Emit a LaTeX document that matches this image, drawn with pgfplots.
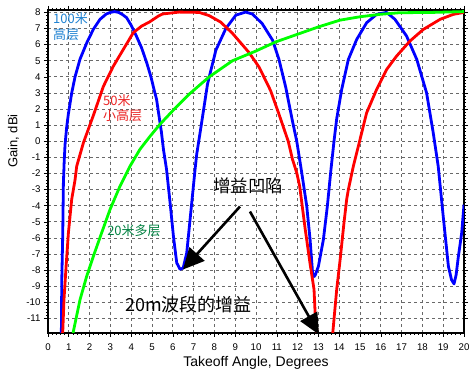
\documentclass[border=0pt]{standalone}
\usepackage{fontspec}
\setmainfont{Liberation Sans}
\newfontfamily\cjk{Noto Sans CJK SC}
\usepackage{pgfplots}
\pgfplotsset{compat=1.18}
\usetikzlibrary{arrows.meta}
\definecolor{c100}{RGB}{30,130,210}
\definecolor{c50}{RGB}{235,35,35}
\definecolor{c20}{RGB}{0,128,64}
\definecolor{gridgray}{RGB}{105,105,105}
\begin{document}
\begin{tikzpicture}
\begin{axis}[
  scale only axis,
  width=416bp, height=323bp,
  xmin=0, xmax=20, ymin=-11.9, ymax=8.15,
  xtick={0,1,...,20},
  ytick={-11,-10,...,8},
  minor x tick num=4, minor y tick num=4,
  tick align=outside,
  major tick length=4bp, minor tick length=2bp,
  tick style={black, line width=0.6bp},
  grid=major,
  major grid style={dashed, gridgray, line width=0.8bp, dash pattern=on 3bp off 3bp},
  axis line style={black, line width=1.6bp},
  clip mode=individual,
  /pgf/number format/assume math mode=true,
  tick label style={font=\fontsize{9.7bp}{11bp}\selectfont},
  xticklabel style={yshift=-3bp},
  xlabel={Takeoff Angle, Degrees},
  xlabel style={at={(axis description cs:0.5,0)}, anchor=base, yshift=-34bp, font=\fontsize{14bp}{16bp}\selectfont},
]
\addplot[blue, line width=2.8bp, line join=round] coordinates {
(0.64,-12) (0.65,-11) (0.66,-8.8) (0.71,-5.7) (0.74,-2.6) (0.78,-1.2) (0.82,-0.2) (0.9,0.9) (0.98,1.7)
(1.14,3.0) (1.3,4.0) (1.54,5.1) (1.86,6.1) (2.18,6.95) (2.5,7.57) (2.8,7.9) (3.0,8.0) (3.2,8.05)
(3.4,8.0) (3.6,7.85) (3.78,7.67) (4.0,7.2) (4.26,6.5) (4.5,5.8) (4.74,4.9) (4.95,4.0) (5.1,3.2)
(5.22,2.6) (5.38,1.2) (5.45,0.6) (5.55,-0.5) (5.7,-1.75) (5.87,-3.82) (6.03,-5.89) (6.19,-7.55)
(6.35,-7.95) (6.5,-7.86) (6.67,-6.93) (6.83,-4.86) (6.99,-2.79) (7.07,-1.75) (7.15,-0.8)
(7.35,0.85) (7.67,3.56) (8.07,5.65) (8.55,7.0) (9.03,7.83) (9.5,8.02) (9.83,7.9) (10.3,7.3)
(10.8,6.27) (11.1,5.1) (11.43,3.35) (11.75,1.27) (11.96,0.0) (12.2,-1.96) (12.44,-4.03)
(12.6,-6.1) (12.72,-8.17) (12.79,-8.4) (12.85,-8.3) (13.0,-7.76) (13.24,-6.1) (13.43,-4.03)
(13.6,-1.8) (13.75,0.0) (13.88,1.4) (14.12,3.22) (14.44,5.08) (14.84,6.32) (15.32,7.36)
(15.8,7.88) (16.28,8.0) (16.68,7.57) (17.24,6.53) (17.73,5.08) (18.2,3.01) (18.52,0.53)
(18.76,-1.55) (19.0,-4.65) (19.25,-7.76) (19.4,-8.6) (19.52,-8.85) (19.62,-8.3) (19.73,-7.14)
(19.89,-5.68) (20,-3.93)
};
\addplot[red, line width=2.8bp, line join=round] coordinates {
(0.69,-12) (0.71,-11.8) (0.77,-9.8) (0.87,-7.76) (0.98,-5.7) (1.14,-3.6) (1.3,-2.4) (1.38,-1.55)
(1.7,-0.1) (2.18,1.6) (2.66,3.4) (3.14,4.66) (3.62,5.7) (4.1,6.74) (4.5,7.15) (4.87,7.4)
(5.3,7.77) (5.5,7.9) (6.3,8.02) (7.27,8.0) (7.75,7.8) (8.3,7.4) (8.87,6.7) (9.67,5.5)
(10.15,4.6) (10.7,3.15) (11.1,1.7) (11.43,0.45) (11.55,0.0) (11.75,-1.1) (11.96,-1.96)
(12.1,-2.79) (12.36,-5.4) (12.6,-7.6) (12.79,-9.2) (12.84,-10.6) (12.92,-11.7) (12.95,-12)
};
\addplot[red, line width=2.8bp, line join=round] coordinates {
(13.66,-12) (13.69,-11.9) (13.88,-9.2) (14.04,-7.4) (14.23,-5.06) (14.36,-3.6) (14.44,-3.0)
(14.68,-1.55) (15.0,0.11) (15.32,1.77) (15.8,3.22) (16.28,4.46) (16.76,5.29) (17.4,6.22)
(18.04,6.94) (18.85,7.57) (19.49,7.88) (20,8.0)
};
\addplot[green, line width=2.8bp, line join=round] coordinates {
(1.2,-12) (1.22,-11.8) (1.54,-9.83) (1.86,-8.38) (2.18,-7.14) (2.58,-5.68) (2.98,-4.24)
(3.46,-2.79) (3.94,-1.55) (4.42,-0.5) (4.9,0.3) (5.38,1.05) (6.0,1.9) (6.8,2.94) (7.75,4.0)
(8.87,5.0) (9.99,5.6) (10.95,6.17) (11.9,6.6) (13.0,7.1) (14.04,7.52) (15.0,7.73) (15.96,7.88)
(16.9,7.98) (18.5,8.0) (20,8.05)
};
% labels
\node[rotate=90, font=\fontsize{13bp}{15bp}\selectfont] at ([xshift=-34.5bp]rel axis cs:0,0.594) {Gain, dBi};
\node[anchor=base west, inner sep=0pt, text=c100, font=\cjk\fontsize{13bp}{15bp}\selectfont] at (axis cs:0.24,7.32) {100米};
\node[anchor=base west, inner sep=0pt, text=c100, font=\cjk\fontsize{13bp}{15bp}\selectfont] at (axis cs:0.24,6.32) {高层};
\node[anchor=base west, inner sep=0pt, text=c50, font=\cjk\fontsize{13bp}{15bp}\selectfont] at (axis cs:2.64,2.22) {50米};
\node[anchor=base west, inner sep=0pt, text=c50, font=\cjk\fontsize{13bp}{15bp}\selectfont] at (axis cs:2.64,1.29) {小高层};
\node[anchor=base west, inner sep=0pt, text=c20, font=\cjk\fontsize{13bp}{15bp}\selectfont] at (axis cs:2.84,-5.85) {20米多层};
\node[anchor=base west, inner sep=0pt, text=black, font=\cjk\fontsize{17.5bp}{20bp}\selectfont] at (axis cs:7.93,-3.18) {增益凹陷};
\node[anchor=base west, inner sep=0pt, text=black, font=\cjk\fontsize{18bp}{20bp}\selectfont] at (axis cs:3.7,-10.55) {20m波段的增益};
\draw[black, line width=2.6bp, -{Triangle[length=21bp, width=20bp]}] (axis cs:9.23,-4.05) -- (axis cs:6.49,-7.96);
\draw[black, line width=2.6bp, -{Triangle[length=21bp, width=19bp]}] (axis cs:9.71,-4.36) -- (axis cs:13.03,-12.0);
\end{axis}
\path (current axis.south west) +(-48bp,-37bp) (current axis.north east) +(11bp,10bp);
\end{tikzpicture}
\end{document}
